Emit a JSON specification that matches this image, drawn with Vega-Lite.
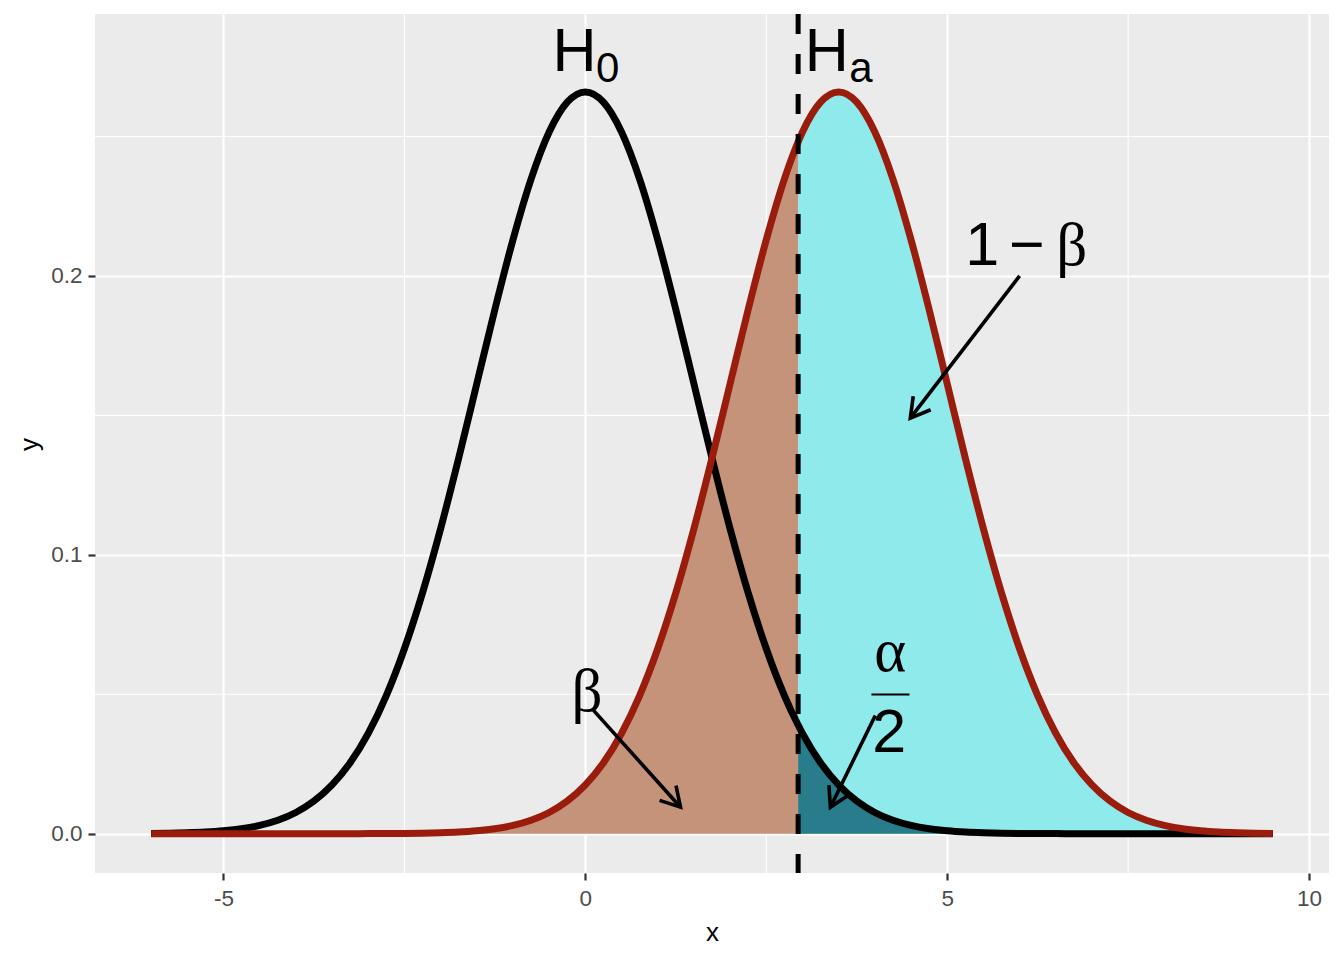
{
  "$schema": "https://vega.github.io/schema/vega-lite/v6.json",
  "width": 1234,
  "height": 859,
  "autosize": {"type": "none"},
  "padding": {"left": 95, "top": 14, "right": 15, "bottom": 87},
  "background": "white",
  "config": {
    "view": {"fill": "#EBEBEB", "stroke": null},
    "axis": {
      "domain": false, "grid": true, "gridColor": "white", "gridWidth": 2.2,
      "tickColor": "#333333", "tickWidth": 2.2, "tickSize": 7,
      "labelFont": "Liberation Sans", "labelFontSize": 22.5, "labelColor": "#4D4D4D",
      "titleFont": "Liberation Sans", "titleFontSize": 26, "titleFontWeight": "normal", "titleColor": "black"
    },
    "axisX": {"labelPadding": 7, "titleX": 617, "titleY": 67, "titleBaseline": "alphabetic", "titleAlign": "center"},
    "axisY": {"labelPadding": 6, "titleX": -58, "titleY": 430, "titleAngle": 270, "titleBaseline": "alphabetic", "titleAlign": "center"}
  },
  "datasets": {
    "curves": [
      {"x": -6, "h0": 0.00009, "ha": 0},
      {"x": -5.75, "h0": 0.00017, "ha": 0},
      {"x": -5.5, "h0": 0.00032, "ha": 0},
      {"x": -5.25, "h0": 0.00058, "ha": 0},
      {"x": -5, "h0": 0.00103, "ha": 0},
      {"x": -4.75, "h0": 0.00177, "ha": 0},
      {"x": -4.5, "h0": 0.00296, "ha": 0},
      {"x": -4.25, "h0": 0.00481, "ha": 0},
      {"x": -4, "h0": 0.0076, "ha": 0},
      {"x": -3.75, "h0": 0.01169, "ha": 0},
      {"x": -3.5, "h0": 0.01748, "ha": 0},
      {"x": -3.25, "h0": 0.02543, "ha": 0.00001},
      {"x": -3, "h0": 0.03599, "ha": 0.00002},
      {"x": -2.75, "h0": 0.04954, "ha": 0.00005},
      {"x": -2.5, "h0": 0.06632, "ha": 0.00009},
      {"x": -2.25, "h0": 0.08634, "ha": 0.00017},
      {"x": -2, "h0": 0.10934, "ha": 0.00032},
      {"x": -1.75, "h0": 0.13466, "ha": 0.00058},
      {"x": -1.5, "h0": 0.16131, "ha": 0.00103},
      {"x": -1.25, "h0": 0.18794, "ha": 0.00177},
      {"x": -1, "h0": 0.21297, "ha": 0.00296},
      {"x": -0.75, "h0": 0.23471, "ha": 0.00481},
      {"x": -0.5, "h0": 0.25159, "ha": 0.0076},
      {"x": -0.25, "h0": 0.26229, "ha": 0.01169},
      {"x": 0, "h0": 0.26596, "ha": 0.01748},
      {"x": 0.25, "h0": 0.26229, "ha": 0.02543},
      {"x": 0.5, "h0": 0.25159, "ha": 0.03599},
      {"x": 0.75, "h0": 0.23471, "ha": 0.04954},
      {"x": 1, "h0": 0.21297, "ha": 0.06632},
      {"x": 1.25, "h0": 0.18794, "ha": 0.08634},
      {"x": 1.5, "h0": 0.16131, "ha": 0.10934},
      {"x": 1.75, "h0": 0.13466, "ha": 0.13466},
      {"x": 2, "h0": 0.10934, "ha": 0.16131},
      {"x": 2.25, "h0": 0.08634, "ha": 0.18794},
      {"x": 2.5, "h0": 0.06632, "ha": 0.21297},
      {"x": 2.75, "h0": 0.04954, "ha": 0.23471},
      {"x": 2.94, "h0": 0.03896, "ha": 0.24806},
      {"x": 3, "h0": 0.03599, "ha": 0.25159},
      {"x": 3.25, "h0": 0.02543, "ha": 0.26229},
      {"x": 3.5, "h0": 0.01748, "ha": 0.26596},
      {"x": 3.75, "h0": 0.01169, "ha": 0.26229},
      {"x": 4, "h0": 0.0076, "ha": 0.25159},
      {"x": 4.25, "h0": 0.00481, "ha": 0.23471},
      {"x": 4.5, "h0": 0.00296, "ha": 0.21297},
      {"x": 4.75, "h0": 0.00177, "ha": 0.18794},
      {"x": 5, "h0": 0.00103, "ha": 0.16131},
      {"x": 5.25, "h0": 0.00058, "ha": 0.13466},
      {"x": 5.5, "h0": 0.00032, "ha": 0.10934},
      {"x": 5.75, "h0": 0.00017, "ha": 0.08634},
      {"x": 6, "h0": 0.00009, "ha": 0.06632},
      {"x": 6.25, "h0": 0.00005, "ha": 0.04954},
      {"x": 6.5, "h0": 0.00002, "ha": 0.03599},
      {"x": 6.75, "h0": 0.00001, "ha": 0.02543},
      {"x": 7, "h0": 0, "ha": 0.01748},
      {"x": 7.25, "h0": 0, "ha": 0.01169},
      {"x": 7.5, "h0": 0, "ha": 0.0076},
      {"x": 7.75, "h0": 0, "ha": 0.00481},
      {"x": 8, "h0": 0, "ha": 0.00296},
      {"x": 8.25, "h0": 0, "ha": 0.00177},
      {"x": 8.5, "h0": 0, "ha": 0.00103},
      {"x": 8.75, "h0": 0, "ha": 0.00058},
      {"x": 9, "h0": 0, "ha": 0.00032},
      {"x": 9.25, "h0": 0, "ha": 0.00017},
      {"x": 9.5, "h0": 0, "ha": 0.00009}
    ],
    "arrows": [
      {"id": "power", "x": 6.0, "y": 0.2, "x2": 4.49, "y2": 0.149},
      {"id": "beta", "x": 0.113, "y": 0.0442, "x2": 1.315, "y2": 0.0095},
      {"id": "alpha", "x": 4.006, "y": 0.0424, "x2": 3.386, "y2": 0.0095}
    ]
  },
  "layer": [
    {
      "data": {"values": [{"x": -2.5}, {"x": 2.5}, {"x": 7.5}]},
      "mark": {"type": "rule", "color": "white", "strokeWidth": 1.1},
      "encoding": {"x": {"field": "x", "type": "quantitative", "title": "x", "scale": {"domain": [-6.775, 10.275], "nice": false, "zero": false}}}
    },
    {
      "data": {"values": [{"y": 0.05}, {"y": 0.15}, {"y": 0.25}]},
      "mark": {"type": "rule", "color": "white", "strokeWidth": 1.1},
      "encoding": {"y": {"field": "y", "type": "quantitative", "title": "y", "scale": {"domain": [-0.0141, 0.2939], "nice": false, "zero": false}}}
    },
    {
      "data": {"name": "curves"},
      "transform": [{"filter": "datum.x <= 2.94"}],
      "mark": {"type": "area", "color": "#C5937A", "interpolate": "monotone"},
      "encoding": {
        "x": {"field": "x", "type": "quantitative", "title": "x", "scale": {"domain": [-6.775, 10.275], "nice": false, "zero": false}},
        "y": {"field": "ha", "type": "quantitative", "title": "y", "scale": {"domain": [-0.0141, 0.2939], "nice": false, "zero": false}},
        "y2": {"datum": 0}
      }
    },
    {
      "data": {"name": "curves"},
      "transform": [{"filter": "datum.x >= 2.94"}],
      "mark": {"type": "area", "color": "#8FEBEB", "interpolate": "monotone"},
      "encoding": {
        "x": {"field": "x", "type": "quantitative", "title": "x"},
        "y": {"field": "ha", "type": "quantitative", "title": "y"},
        "y2": {"datum": 0}
      }
    },
    {
      "data": {"name": "curves"},
      "transform": [{"filter": "datum.x >= 2.94"}],
      "mark": {"type": "area", "color": "#287C8B", "interpolate": "monotone"},
      "encoding": {
        "x": {"field": "x", "type": "quantitative", "title": "x"},
        "y": {"field": "h0", "type": "quantitative", "title": "y"},
        "y2": {"datum": 0}
      }
    },
    {
      "data": {"name": "curves"},
      "mark": {"type": "line", "color": "black", "strokeWidth": 7, "interpolate": "monotone", "strokeJoin": "round"},
      "encoding": {
        "x": {"field": "x", "type": "quantitative", "title": "x", "scale": {"domain": [-6.775, 10.275], "nice": false, "zero": false},
              "axis": {"values": [-5, 0, 5, 10], "labelExpr": "toString(datum.value)"}},
        "y": {"field": "h0", "type": "quantitative", "title": "y", "scale": {"domain": [-0.0141, 0.2939], "nice": false, "zero": false},
              "axis": {"values": [0, 0.1, 0.2], "format": ".1f"}}
      }
    },
    {
      "data": {"name": "curves"},
      "mark": {"type": "line", "color": "#991C0D", "strokeWidth": 7, "interpolate": "monotone", "strokeJoin": "round"},
      "encoding": {
        "x": {"field": "x", "type": "quantitative", "title": "x"},
        "y": {"field": "ha", "type": "quantitative", "title": "y"}
      }
    },
    {
      "data": {"values": [{"x": 2.94}]},
      "mark": {"type": "rule", "color": "black", "strokeWidth": 5, "strokeDash": [20, 20]},
      "encoding": {"x": {"field": "x", "type": "quantitative", "title": "x"}}
    },
    {
      "data": {"name": "arrows"},
      "mark": {"type": "rule", "color": "black", "strokeWidth": 3.6},
      "encoding": {
        "x": {"field": "x", "type": "quantitative", "title": "x"},
        "y": {"field": "y", "type": "quantitative", "title": "y"},
        "x2": {"field": "x2"},
        "y2": {"field": "y2"}
      }
    },
    {
      "data": {"name": "arrows"},
      "transform": [{"filter": "datum.id == 'power'"}],
      "mark": {"type": "point", "shape": "M -0.866 -0.5 L 0 0 L -0.866 0.5", "filled": false, "stroke": "black", "strokeWidth": 3.6, "size": 1936, "angle": 127.6, "opacity": 1, "strokeJoin": "miter"},
      "encoding": {
        "x": {"field": "x2", "type": "quantitative", "title": "x"},
        "y": {"field": "y2", "type": "quantitative", "title": "y"}
      }
    },
    {
      "data": {"name": "arrows"},
      "transform": [{"filter": "datum.id == 'beta'"}],
      "mark": {"type": "point", "shape": "M -0.866 -0.5 L 0 0 L -0.866 0.5", "filled": false, "stroke": "black", "strokeWidth": 3.6, "size": 1936, "angle": 48.1, "opacity": 1, "strokeJoin": "miter"},
      "encoding": {
        "x": {"field": "x2", "type": "quantitative", "title": "x"},
        "y": {"field": "y2", "type": "quantitative", "title": "y"}
      }
    },
    {
      "data": {"name": "arrows"},
      "transform": [{"filter": "datum.id == 'alpha'"}],
      "mark": {"type": "point", "shape": "M -0.866 -0.5 L 0 0 L -0.866 0.5", "filled": false, "stroke": "black", "strokeWidth": 3.6, "size": 1936, "angle": 116.1, "opacity": 1, "strokeJoin": "miter"},
      "encoding": {
        "x": {"field": "x2", "type": "quantitative", "title": "x"},
        "y": {"field": "y2", "type": "quantitative", "title": "y"}
      }
    },
    {
      "data": {"values": [{"x": 3.953, "y": 0.0499, "x2": 4.478}]},
      "mark": {"type": "rule", "color": "black", "strokeWidth": 2},
      "encoding": {
        "x": {"field": "x", "type": "quantitative", "title": "x"},
        "y": {"field": "y", "type": "quantitative", "title": "y"},
        "x2": {"field": "x2"}
      }
    },
    {
      "data": {"values": [
        {"label": "H", "x": -0.149, "y": 0.2735},
        {"label": "H", "x": 3.337, "y": 0.2735},
        {"label": "1", "x": 5.482, "y": 0.2038},
        {"label": "−", "x": 6.099, "y": 0.2038},
        {"label": "2", "x": 4.2, "y": 0.0292}
      ]},
      "mark": {"type": "text", "font": "Liberation Sans", "fontSize": 61, "color": "black", "align": "center", "baseline": "alphabetic"},
      "encoding": {
        "x": {"field": "x", "type": "quantitative", "title": "x"},
        "y": {"field": "y", "type": "quantitative", "title": "y"},
        "text": {"field": "label"}
      }
    },
    {
      "data": {"values": [
        {"label": "0", "x": 0.307, "y": 0.2696},
        {"label": "a", "x": 3.807, "y": 0.2696}
      ]},
      "mark": {"type": "text", "font": "Liberation Sans", "fontSize": 42, "color": "black", "align": "center", "baseline": "alphabetic"},
      "encoding": {
        "x": {"field": "x", "type": "quantitative", "title": "x"},
        "y": {"field": "y", "type": "quantitative", "title": "y"},
        "text": {"field": "label"}
      }
    },
    {
      "data": {"values": [
        {"label": "β", "x": 6.72, "y": 0.2038},
        {"label": "β", "x": 0.023, "y": 0.0439},
        {"label": "α", "x": 4.214, "y": 0.0582}
      ]},
      "mark": {"type": "text", "font": "Liberation Serif", "fontSize": 61, "color": "black", "align": "center", "baseline": "alphabetic"},
      "encoding": {
        "x": {"field": "x", "type": "quantitative", "title": "x"},
        "y": {"field": "y", "type": "quantitative", "title": "y"},
        "text": {"field": "label"}
      }
    }
  ]
}
